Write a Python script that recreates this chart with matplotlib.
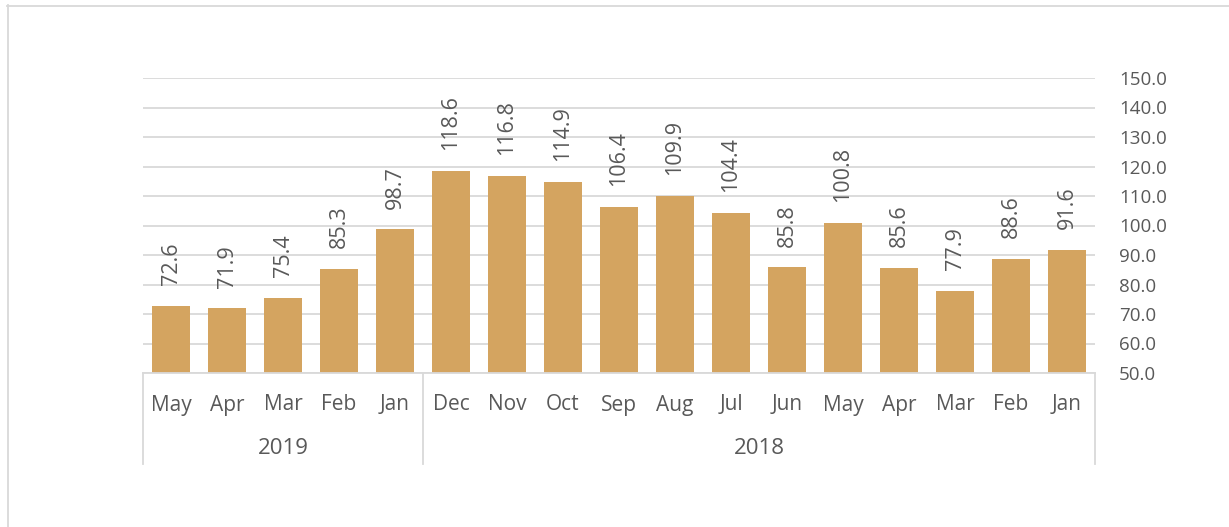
import numpy as np
import matplotlib.pyplot as plt
from matplotlib.lines import Line2D

plt.rcParams['font.family'] = ['Open Sans', 'DejaVu Sans']

months = ['May', 'Apr', 'Mar', 'Feb', 'Jan', 'Dec', 'Nov', 'Oct', 'Sep',
          'Aug', 'Jul', 'Jun', 'May', 'Apr', 'Mar', 'Feb', 'Jan']
values = [72.6, 71.9, 75.4, 85.3, 98.7, 118.6, 116.8, 114.9, 106.4,
          109.9, 104.4, 85.8, 100.8, 85.6, 77.9, 88.6, 91.6]
years = ['2019', '2018']
year_counts = [5, 12]

textColor = '#595959'
barColor = '#D4A460'
gridColor = '#D9D9D9'

fig = plt.figure(figsize=(12.29, 5.27), dpi=100)
W, H = 1229, 527
left, right, top, bottom = 143, 1095, 78, 373
ax = fig.add_axes([left / W, 1 - bottom / H, (right - left) / W, (bottom - top) / H])

x = np.arange(len(values))
base = 50
ax.bar(x, np.array(values) - base, bottom=base, width=0.68, color=barColor, zorder=3)
for xi, v in zip(x, values):
    ax.annotate(f'{v:.1f}', (xi, v), xytext=(0, 15), textcoords='offset points',
                rotation=90, ha='center', va='bottom', fontsize=15.5, color=textColor)

ax.set_xlim(-0.5, len(values) - 0.5)
ax.set_ylim(50, 150)
ax.set_yticks(np.arange(50, 151, 10))
ax.yaxis.tick_right()
ax.set_yticklabels([f'{t:.1f}' for t in np.arange(50, 151, 10)], fontsize=13.5,
                   color=textColor, ha='left')
ax.tick_params(axis='y', length=0, pad=17.3)
ax.grid(axis='y', color=gridColor, linewidth=1.3, zorder=0)
for s in ax.spines.values():
    s.set_visible(False)
ax.set_xticks([])

# month labels on first category level
xt = ax.get_xaxis_transform()
for xi, m in zip(x, months):
    ax.text(xi, (bottom - 405) / (bottom - top), m, transform=xt, ha='center', va='center',
            fontsize=15, color=textColor)

def fx(px):
    return px / W

def fy(py):
    return 1 - py / H

# two-level category axis lines
fig.add_artist(Line2D([fx(left), fx(right)], [fy(bottom), fy(bottom)], color=gridColor, lw=1.3))
cat_w = (right - left) / len(values)
pos = 0
edges = [left]
for yr, n in zip(years, year_counts):
    cx = left + (pos + n / 2) * cat_w
    fig.text(fx(cx), fy(449), yr, ha='center', va='center', fontsize=16, color=textColor)
    pos += n
    edges.append(left + pos * cat_w)
for e in edges:
    fig.add_artist(Line2D([fx(e), fx(e)], [fy(bottom), fy(464)], color=gridColor, lw=1.3))

# outer chart border (top and left only visible)
fig.add_artist(Line2D([fx(7), fx(W)], [fy(5.5), fy(5.5)], color=gridColor, lw=1.3))
fig.add_artist(Line2D([fx(7.5), fx(7.5)], [fy(5), fy(H)], color=gridColor, lw=1.3))

fig.savefig('out.png', dpi=100)
